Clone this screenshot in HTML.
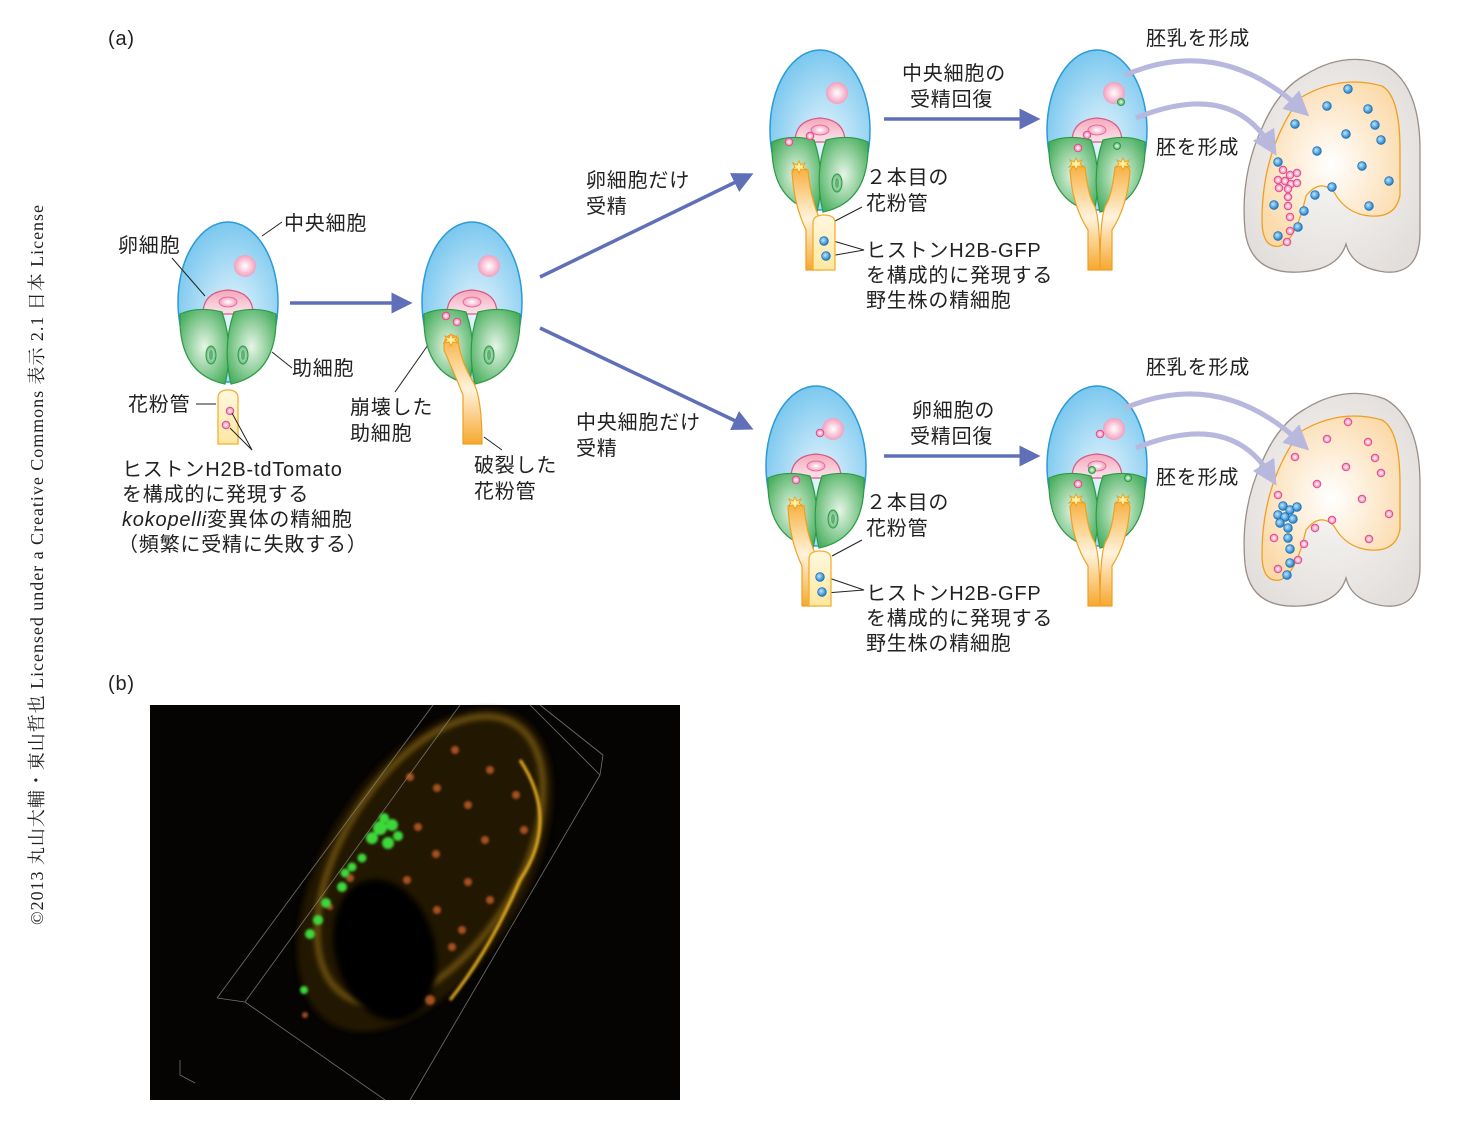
<!DOCTYPE html>
<html><head><meta charset="utf-8"><style>
html,body{margin:0;padding:0;background:#fff}
svg{display:block}
text{font-family:"Liberation Sans","Noto Sans CJK JP",sans-serif;font-size:20px;letter-spacing:0.8px;fill:#222}
.s{font-family:"Liberation Serif","Noto Serif CJK SC",serif;font-size:18px;letter-spacing:0}
</style></head><body>
<svg width="1470" height="1137" viewBox="0 0 1470 1137" xmlns="http://www.w3.org/2000/svg">
<defs>
<radialGradient id="gb" cx="0.55" cy="0.6" r="0.6"><stop offset="0" stop-color="#e8f6fd"/><stop offset="1" stop-color="#7cc8ef"/></radialGradient>
<radialGradient id="gg" cx="0.5" cy="0.5" r="0.6"><stop offset="0" stop-color="#e6f5e6"/><stop offset="1" stop-color="#4bb060"/></radialGradient>
<radialGradient id="gp" cx="0.5" cy="0.5" r="0.6"><stop offset="0" stop-color="#fff"/><stop offset="1" stop-color="#f28bb0"/></radialGradient>
<linearGradient id="ge" x1="0" y1="0" x2="0" y2="1"><stop offset="0" stop-color="#f4a8bc"/><stop offset="1" stop-color="#fbe4ea"/></linearGradient>
<linearGradient id="gt" x1="0" y1="0" x2="0" y2="1"><stop offset="0" stop-color="#f7b040"/><stop offset="0.5" stop-color="#fff3dc"/><stop offset="1" stop-color="#f6a830"/></linearGradient>
<linearGradient id="gy" x1="0" y1="0" x2="0" y2="1"><stop offset="0" stop-color="#fff8e0"/><stop offset="1" stop-color="#fde7a0"/></linearGradient>
<radialGradient id="gs" cx="0.5" cy="0.5" r="0.6"><stop offset="0" stop-color="#ffffff"/><stop offset="1" stop-color="#fbd9a8"/></radialGradient>
<radialGradient id="gseed" cx="0.5" cy="0.5" r="0.6"><stop offset="0" stop-color="#f7f6f4"/><stop offset="1" stop-color="#e2dedb"/></radialGradient>
<radialGradient id="dbl" cx="0.4" cy="0.4" r="0.6"><stop offset="0" stop-color="#bfe6ff"/><stop offset="1" stop-color="#1f7fc8"/></radialGradient>
<radialGradient id="dpk" cx="0.5" cy="0.5" r="0.6"><stop offset="0" stop-color="#fff"/><stop offset="1" stop-color="#e8609a"/></radialGradient>
<radialGradient id="dgr" cx="0.5" cy="0.5" r="0.6"><stop offset="0" stop-color="#e8ffe8"/><stop offset="1" stop-color="#38a050"/></radialGradient>
<marker id="ah" markerWidth="6" markerHeight="6" refX="3" refY="3" orient="auto" markerUnits="strokeWidth"><path d="M0,0 L6,3 L0,6 Z" fill="#6070b8"/></marker>
<marker id="al" markerWidth="5" markerHeight="5" refX="2.5" refY="2.5" orient="auto" markerUnits="strokeWidth"><path d="M0,0 L5,2.5 L0,5 Z" fill="#b8b8de"/></marker>
<g id="ov">
<ellipse cx="0" cy="0" rx="50" ry="80" fill="url(#gb)" stroke="#2a9ad8" stroke-width="1.5"/>
<path d="M-25,12 Q-25,-10 0,-12 Q25,-10 25,12 Z" fill="url(#ge)" stroke="#e05585" stroke-width="1.2"/>
<ellipse cx="0" cy="0" rx="9" ry="5" fill="url(#gp)" stroke="#e06090" stroke-width="0.8"/>
<path d="M-48,12 Q-30,4 -6,10 Q6,45 -3,82 Q-50,72 -48,12 Z" fill="url(#gg)" stroke="#2e9a48" stroke-width="1.2"/>
<path d="M48,12 Q30,4 6,10 Q-6,45 3,82 Q50,72 48,12 Z" fill="url(#gg)" stroke="#2e9a48" stroke-width="1.2"/>
</g>
<g id="sn"><ellipse cx="0" cy="0" rx="5" ry="9" fill="url(#gg)" stroke="#2e9a48"/><ellipse cx="0" cy="0" rx="2" ry="5" fill="#1c8a40" opacity="0.6"/></g>
<circle id="pn" r="11" fill="url(#gp)"/>
<path id="star" d="M0,-6 L2,-2 L6,-4 L4,0 L7,3 L2,2 L0,6 L-2,2 L-7,3 L-4,0 L-6,-4 L-2,-2 Z" fill="#fff0a0" stroke="#f0a020" stroke-width="1"/>
<circle id="bd" r="4.3" fill="url(#dbl)" stroke="#1a70b8" stroke-width="0.8"/>
<circle id="pd" r="3.8" fill="url(#dpk)" stroke="#e04888" stroke-width="0.9"/>
<g id="seedbase">
<path d="M1305,75 Q1345,50 1385,65 Q1420,85 1420,150 L1420,232 Q1420,275 1385,272 Q1352,268 1346,244 Q1338,270 1300,272 Q1250,275 1245,230 Q1240,175 1262,128 Q1278,90 1305,75 Z" fill="url(#gseed)" stroke="#9a8f88" stroke-width="1.3"/>
<path d="M1300,98 Q1340,74 1382,86 Q1400,96 1400,150 L1400,195 Q1396,218 1370,216 Q1346,214 1334,192 Q1320,178 1306,196 Q1296,240 1280,246 Q1262,249 1262,220 Q1262,150 1300,98 Z" fill="url(#gs)" stroke="#f0a020" stroke-width="1.3"/>
</g>
<filter id="bl"><feGaussianBlur stdDeviation="3"/></filter>
<filter id="bl1"><feGaussianBlur stdDeviation="1.2"/></filter>
</defs>

<text class="s" transform="translate(43,925) rotate(-90)" textLength="720">©2013 丸山大輔・東山哲也 Licensed under a Creative Commons 表示 2.1 日本 License</text>
<text x="108" y="45">(a)</text>
<text x="108" y="690">(b)</text>

<!-- O1 -->
<use href="#ov" transform="translate(228,302)"/>
<use href="#pn" x="245" y="266"/>
<use href="#sn" x="211" y="355"/><use href="#sn" x="243" y="355"/>
<path d="M218,444 L218,398 Q218,390 228,390 Q238,390 238,398 L238,444 Z" fill="url(#gy)" stroke="#f0b030" stroke-width="1.3"/>
<use href="#pd" x="230" y="411"/><use href="#pd" x="226" y="425"/>
<g stroke="#222" stroke-width="1" fill="none">
<path d="M262,236 L282,222"/><path d="M172,258 L205,296"/><path d="M272,352 L292,368"/><path d="M196,404 L216,404"/>
<path d="M232,413 L252,450 L230,428"/>
<path d="M395,392 L428,345"/><path d="M484,437 L502,450"/>
<path d="M835,221 L862,207"/><path d="M830,240 L864,250 L830,256"/>
<path d="M832,556 L862,540"/><path d="M826,577 L864,590 L826,593"/>
</g>
<text x="284" y="230">中央細胞</text>
<text x="118" y="252">卵細胞</text>
<text x="292" y="375">助細胞</text>
<text x="128" y="411">花粉管</text>
<text x="122" y="476">ヒストンH2B-tdTomato</text>
<text x="122" y="501">を構成的に発現する</text>
<text x="122" y="526"><tspan font-style="italic">kokopelli</tspan>変異体の精細胞</text>
<text x="118" y="551">（頻繁に受精に失敗する）</text>

<line x1="290" y1="303" x2="402" y2="303" stroke="#6070b8" stroke-width="3.5" marker-end="url(#ah)"/>

<!-- O2 -->
<use href="#ov" transform="translate(472,302)"/>
<use href="#pn" x="489" y="266"/>
<use href="#sn" x="489" y="355"/>
<use href="#pd" x="446" y="316"/><use href="#pd" x="457" y="322"/>
<path d="M444,343 Q448,330 458,338 Q460,360 472,380 Q482,395 482,444 L463,444 L463,395 Q455,375 444,350 Z" fill="url(#gt)" stroke="#f0a020" stroke-width="1.2"/>
<use href="#star" x="451" y="340"/>
<text x="350" y="414">崩壊した</text><text x="350" y="440">助細胞</text>
<text x="474" y="472">破裂した</text><text x="474" y="498">花粉管</text>

<line x1="540" y1="277" x2="744" y2="178" stroke="#6070b8" stroke-width="3.5" marker-end="url(#ah)"/>
<line x1="540" y1="328" x2="744" y2="425" stroke="#6070b8" stroke-width="3.5" marker-end="url(#ah)"/>
<text x="586" y="187">卵細胞だけ</text><text x="586" y="213">受精</text>
<text x="576" y="429">中央細胞だけ</text><text x="576" y="455">受精</text>

<!-- O3 -->
<use href="#ov" transform="translate(820,130)"/>
<use href="#pn" x="837" y="93"/>
<use href="#sn" x="837" y="183"/>
<use href="#pd" x="810" y="136"/><use href="#pd" x="789" y="142"/>
<path d="M792,172 Q798,165 808,170 Q810,195 818,215 Q822,230 822,270 L806,270 L806,230 Q794,205 792,172 Z" fill="url(#gt)" stroke="#f0a020" stroke-width="1.2"/>
<use href="#star" x="799" y="167"/>
<path d="M813,270 L813,223 Q813,215 824,215 Q835,215 835,223 L835,270 Z" fill="url(#gy)" stroke="#f0b030" stroke-width="1.3"/>
<use href="#bd" x="824" y="241"/><use href="#bd" x="826" y="256"/>
<text x="866" y="184">２本目の</text><text x="866" y="210">花粉管</text>
<text x="866" y="257">ヒストンH2B-GFP</text><text x="866" y="282">を構成的に発現する</text><text x="866" y="307">野生株の精細胞</text>

<line x1="884" y1="119" x2="1030" y2="119" stroke="#6070b8" stroke-width="3.5" marker-end="url(#ah)"/>
<text x="902" y="80">中央細胞の</text><text x="910" y="106">受精回復</text>

<!-- O4 -->
<use href="#ov" transform="translate(1097,130)"/>
<circle cx="1114" cy="93" r="11" fill="url(#gp)"/>
<circle cx="1121" cy="102" r="3.5" fill="url(#dgr)" stroke="#2e9a48"/>
<use href="#pd" x="1087" y="135"/><use href="#pd" x="1078" y="148"/>
<circle cx="1117" cy="146" r="3.5" fill="url(#dgr)" stroke="#2e9a48"/>
<path d="M1070,170 Q1076,162 1085,167 Q1088,195 1094,205 Q1100,215 1100,270 L1088,270 L1088,230 Q1072,205 1070,170 Z M1130,170 Q1124,162 1115,167 Q1112,195 1106,205 Q1100,215 1100,270 L1112,270 L1112,230 Q1128,205 1130,170 Z" fill="url(#gt)" stroke="#f0a020" stroke-width="1.2"/>
<use href="#star" x="1076" y="164"/><use href="#star" x="1123" y="164"/>

<!-- Seed 1 -->
<use href="#seedbase"/>
<path d="M1125,75 Q1220,35 1300,108" stroke="#b8b8de" stroke-width="5" fill="none" marker-end="url(#al)"/>
<path d="M1136,118 Q1230,80 1270,145" stroke="#b8b8de" stroke-width="5" fill="none" marker-end="url(#al)"/>
<text x="1146" y="45">胚乳を形成</text>
<text x="1156" y="154">胚を形成</text>
<g>
<use href="#bd" x="1348" y="89"/><use href="#bd" x="1327" y="106"/><use href="#bd" x="1368" y="109"/><use href="#bd" x="1295" y="124"/><use href="#bd" x="1375" y="125"/><use href="#bd" x="1346" y="134"/><use href="#bd" x="1381" y="140"/><use href="#bd" x="1317" y="151"/><use href="#bd" x="1362" y="166"/><use href="#bd" x="1278" y="162"/><use href="#bd" x="1389" y="181"/><use href="#bd" x="1332" y="187"/><use href="#bd" x="1315" y="195"/><use href="#bd" x="1274" y="205"/><use href="#bd" x="1304" y="211"/><use href="#bd" x="1369" y="206"/><use href="#bd" x="1298" y="227"/><use href="#bd" x="1278" y="236"/>
<use href="#pd" x="1283" y="170"/><use href="#pd" x="1290" y="175"/><use href="#pd" x="1297" y="173"/><use href="#pd" x="1278" y="180"/><use href="#pd" x="1285" y="181"/><use href="#pd" x="1291" y="184"/><use href="#pd" x="1297" y="183"/><use href="#pd" x="1279" y="188"/><use href="#pd" x="1288" y="189"/><use href="#pd" x="1288" y="197"/><use href="#pd" x="1288" y="206"/><use href="#pd" x="1290" y="217"/><use href="#pd" x="1290" y="231"/><use href="#pd" x="1287" y="242"/>
</g>

<!-- O5 -->
<use href="#ov" transform="translate(816,466)"/>
<use href="#pn" x="833" y="429"/>
<use href="#pd" x="820" y="433"/>
<use href="#sn" x="833" y="519"/>
<use href="#pd" x="796" y="480"/>
<path d="M788,508 Q794,501 804,506 Q806,531 814,551 Q818,566 818,606 L802,606 L802,566 Q790,541 788,508 Z" fill="url(#gt)" stroke="#f0a020" stroke-width="1.2"/>
<use href="#star" x="795" y="503"/>
<path d="M809,606 L809,559 Q809,551 820,551 Q831,551 831,559 L831,606 Z" fill="url(#gy)" stroke="#f0b030" stroke-width="1.3"/>
<use href="#bd" x="820" y="577"/><use href="#bd" x="822" y="592"/>
<text x="866" y="509">２本目の</text><text x="866" y="535">花粉管</text>
<text x="866" y="600">ヒストンH2B-GFP</text><text x="866" y="625">を構成的に発現する</text><text x="866" y="650">野生株の精細胞</text>

<line x1="884" y1="456" x2="1030" y2="456" stroke="#6070b8" stroke-width="3.5" marker-end="url(#ah)"/>
<text x="912" y="417">卵細胞の</text><text x="910" y="443">受精回復</text>

<!-- O6 -->
<use href="#ov" transform="translate(1097,466)"/>
<circle cx="1114" cy="429" r="11" fill="url(#gp)"/>
<use href="#pd" x="1100" y="434"/>
<circle cx="1092" cy="470" r="3.5" fill="url(#dgr)" stroke="#2e9a48"/>
<use href="#pd" x="1078" y="484"/>
<circle cx="1128" cy="478" r="3.5" fill="url(#dgr)" stroke="#2e9a48"/>
<path d="M1070,506 Q1076,498 1085,503 Q1088,531 1094,541 Q1100,551 1100,606 L1088,606 L1088,566 Q1072,541 1070,506 Z M1130,506 Q1124,498 1115,503 Q1112,531 1106,541 Q1100,551 1100,606 L1112,606 L1112,566 Q1128,541 1130,506 Z" fill="url(#gt)" stroke="#f0a020" stroke-width="1.2"/>
<use href="#star" x="1076" y="500"/><use href="#star" x="1123" y="500"/>

<!-- Seed 2 -->
<use href="#seedbase" transform="translate(0,334)"/>
<path d="M1125,408 Q1220,368 1300,442" stroke="#b8b8de" stroke-width="5" fill="none" marker-end="url(#al)"/>
<path d="M1136,448 Q1230,410 1270,475" stroke="#b8b8de" stroke-width="5" fill="none" marker-end="url(#al)"/>
<text x="1146" y="374">胚乳を形成</text>
<text x="1156" y="484">胚を形成</text>
<g>
<use href="#pd" x="1348" y="422"/><use href="#pd" x="1327" y="439"/><use href="#pd" x="1368" y="442"/><use href="#pd" x="1295" y="457"/><use href="#pd" x="1375" y="458"/><use href="#pd" x="1346" y="467"/><use href="#pd" x="1381" y="473"/><use href="#pd" x="1317" y="484"/><use href="#pd" x="1362" y="499"/><use href="#pd" x="1278" y="495"/><use href="#pd" x="1389" y="514"/><use href="#pd" x="1332" y="520"/><use href="#pd" x="1315" y="528"/><use href="#pd" x="1274" y="538"/><use href="#pd" x="1304" y="544"/><use href="#pd" x="1369" y="539"/><use href="#pd" x="1298" y="560"/><use href="#pd" x="1278" y="569"/>
<use href="#bd" x="1283" y="506"/><use href="#bd" x="1290" y="510"/><use href="#bd" x="1297" y="507"/><use href="#bd" x="1278" y="515"/><use href="#bd" x="1285" y="517"/><use href="#bd" x="1293" y="519"/><use href="#bd" x="1280" y="523"/><use href="#bd" x="1288" y="528"/><use href="#bd" x="1288" y="538"/><use href="#bd" x="1290" y="549"/><use href="#bd" x="1290" y="563"/><use href="#bd" x="1287" y="575"/>
</g>

<!-- (b) photo -->
<rect x="150" y="705" width="530" height="395" fill="#050403"/>
<g>
<ellipse cx="425" cy="870" rx="180" ry="100" transform="rotate(-58 425 870)" fill="#2a1a06" opacity="0.8" filter="url(#bl)"/>
<ellipse cx="430" cy="860" rx="160" ry="88" transform="rotate(-58 430 860)" fill="none" stroke="#b88a20" stroke-width="5" opacity="0.6" filter="url(#bl)"/>
<path d="M520,760 Q560,820 520,880 Q490,950 450,1000" stroke="#e8b020" stroke-width="3" fill="none" filter="url(#bl1)"/>
<ellipse cx="385" cy="950" rx="50" ry="72" transform="rotate(-15 385 950)" fill="#060403" filter="url(#bl)"/>
<g fill="#c8602a" opacity="0.8" filter="url(#bl1)">
<circle cx="455" cy="750" r="4"/><circle cx="490" cy="770" r="4"/><circle cx="410" cy="777" r="4"/><circle cx="437" cy="788" r="4"/><circle cx="516" cy="795" r="4"/><circle cx="468" cy="805" r="4"/><circle cx="418" cy="827" r="4"/><circle cx="485" cy="840" r="4"/><circle cx="436" cy="854" r="4"/><circle cx="524" cy="830" r="4"/><circle cx="407" cy="880" r="4"/><circle cx="468" cy="882" r="4"/><circle cx="437" cy="910" r="4"/><circle cx="490" cy="900" r="4"/><circle cx="462" cy="930" r="4"/><circle cx="452" cy="947" r="4"/><circle cx="430" cy="1000" r="5"/><circle cx="350" cy="878" r="4"/><circle cx="330" cy="907" r="3"/><circle cx="305" cy="1015" r="3"/>
</g>
<g fill="#3ed83a" filter="url(#bl1)">
<circle cx="380" cy="828" r="7"/><circle cx="392" cy="825" r="6"/><circle cx="372" cy="838" r="6"/><circle cx="388" cy="843" r="6"/><circle cx="398" cy="836" r="5"/><circle cx="384" cy="818" r="5"/>
<circle cx="362" cy="858" r="4.5"/><circle cx="352" cy="867" r="4.5"/><circle cx="345" cy="873" r="4.5"/><circle cx="342" cy="887" r="5"/><circle cx="326" cy="903" r="5"/><circle cx="318" cy="920" r="5"/><circle cx="310" cy="934" r="5"/><circle cx="304" cy="990" r="4"/>
</g>
<g stroke="#8a8f84" stroke-width="0.8" fill="none" opacity="0.8">
<path d="M217,998 L433,705"/><path d="M245,1002 L460,705"/><path d="M217,998 L245,1002 L385,1100"/>
<path d="M603,755 L600,775 L410,1100"/><path d="M540,705 L603,755"/><path d="M600,775 L530,705"/>
<path d="M180,1060 L180,1075 L195,1083"/>
</g>
</g>
</svg>
</body></html>
